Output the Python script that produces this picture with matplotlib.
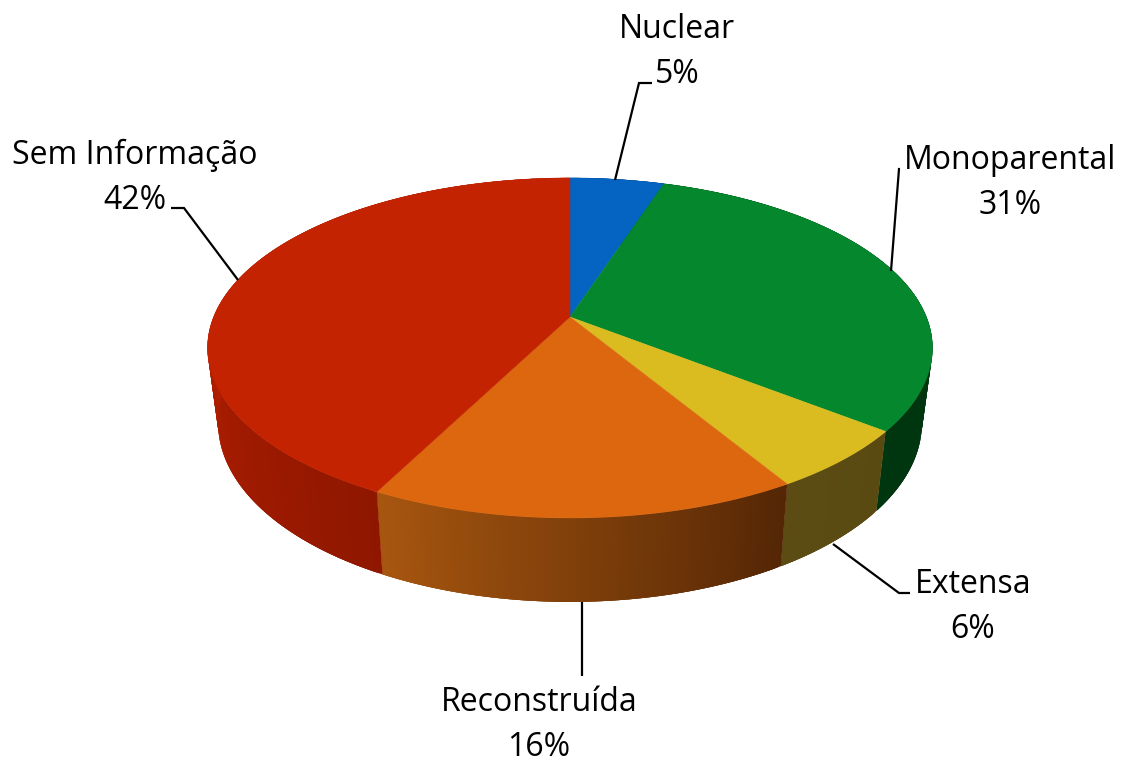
import numpy as np
import matplotlib
matplotlib.use('Agg')
import matplotlib.pyplot as plt
from matplotlib.collections import PolyCollection

categories = ['Nuclear', 'Monoparental', 'Extensa', 'Reconstruída', 'Sem Informação']
values = [5.0, 30.6, 5.8, 16.1, 42.5]
value_labels = ['5%', '31%', '6%', '16%', '42%']

top_colors = ['#0563C1', '#05872D', '#DABB20', '#DC670F', '#C32300']
# wall colours: (at start of slice, at end of slice)
wall_colors = [((0.0, 0.2, 0.45), (0.0, 0.2, 0.45)),
               ((0.0, 0.21, 0.06), (0.0, 0.21, 0.06)),
               ((0.35, 0.29, 0.07), (0.36, 0.30, 0.08)),
               ((0.33, 0.15, 0.02), (0.66, 0.34, 0.06)),
               ((0.56, 0.09, 0.0), (0.70, 0.12, 0.0))]

label_pos = [(677, 52), (1010, 183), (973, 607), (539, 725), (135, 178)]
leaders = [[(615, 180), (639, 83), (652, 83)],
           [(891, 271), (899, 169), (900, 169)],
           [(833, 544), (899, 593), (910, 593)],
           [(582, 602), (582, 676)],
           [(238, 280), (184, 208), (171, 208)]]

cx = 570
persp = 0.182


# circle angle (clockwise from top, degrees) to pixel position, with perspective
def top_edge(theta):
    t = np.radians(theta)
    den = 1 + persp * np.cos(t)
    return cx + 356.4 * np.sin(t) / den, 317 - 164.4 * np.cos(t) / den


def bottom_edge(theta):
    t = np.radians(theta)
    den = 1 + persp * np.cos(t)
    return cx + 346 * np.sin(t) / den, 390.4 - 173 * np.cos(t) / den


fig = plt.figure(figsize=(11.21, 7.58), dpi=100)
ax = fig.add_axes([0, 0, 1, 1])
ax.set_xlim(0, 1121)
ax.set_ylim(758, 0)
ax.axis('off')

edges = np.concatenate([[0], np.cumsum(values)]) / np.sum(values) * 360

# side walls, thin strips for the gradient. each strip runs over the next one so no seams show
for i in range(len(values)):
    start, end = edges[i], edges[i + 1]
    angles = np.linspace(start, end, max(int(end - start) * 2, 4))
    c0, c1 = np.array(wall_colors[i][0]), np.array(wall_colors[i][1])
    quads = []
    colors = []
    for j in range(len(angles) - 1):
        a = angles[j]
        b = angles[min(j + 3, len(angles) - 1)]
        arc = np.linspace(a, b, 6)
        xt, yt = top_edge(arc)
        xb, yb = bottom_edge(arc)
        quads.append(np.c_[np.r_[xt, xb[::-1]], np.r_[yt, yb[::-1]]])
        s = np.clip((a - start) / (min(end, 270) - start), 0, 1) if start < 270 else 1
        colors.append(c0 + (c1 - c0) * s)
    ax.add_collection(PolyCollection(quads, facecolors=colors, edgecolors='none', linewidths=0))

# top face
for i in range(len(values)):
    angles = np.linspace(edges[i], edges[i + 1], 200)
    xs, ys = top_edge(angles)
    ax.fill(np.r_[cx, xs], np.r_[317, ys], color=top_colors[i], lw=0.3)

for pts in leaders:
    ax.plot([p[0] for p in pts], [p[1] for p in pts], color='black', lw=1.6, solid_capstyle='butt', solid_joinstyle='miter')

for name, val, pos in zip(categories, value_labels, label_pos):
    ax.text(pos[0], pos[1], name + '\n' + val, ha='center', va='center', fontsize=23,
            family='Open Sans', color='black', linespacing=1.46)

fig.savefig('out.png', dpi=100)
